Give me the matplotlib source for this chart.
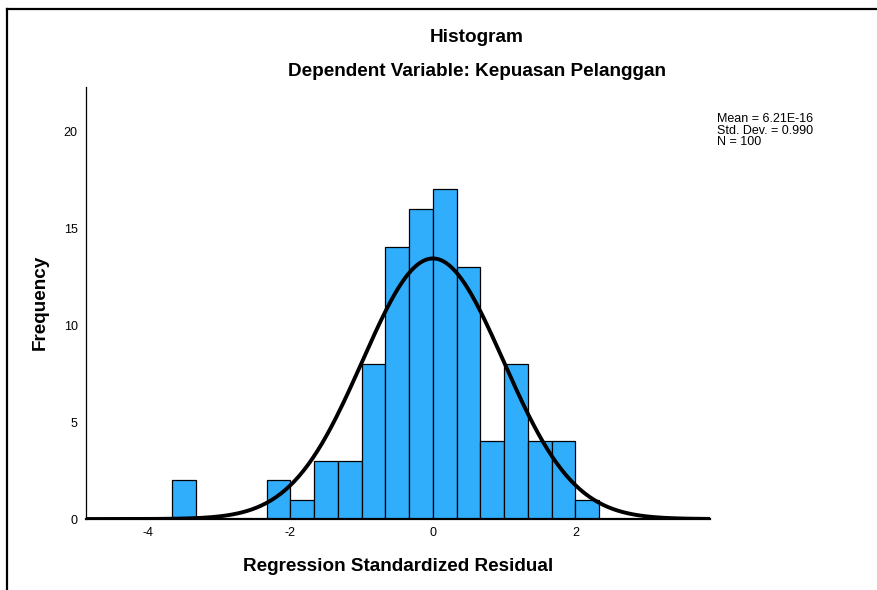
import numpy as np
import matplotlib
matplotlib.use("Agg")
import matplotlib.pyplot as plt
from matplotlib.lines import Line2D

plt.rcParams["font.family"] = ["Liberation Sans", "DejaVu Sans"]
plt.rcParams["axes.unicode_minus"] = False

# Histogram bins (width 1/3) and counts
bin_width = 1 / 3
bin_lefts = [-11, -7, -6, -5, -4, -3, -2, -1, 0, 1, 2, 3, 4, 5, 6]  # in units of bin_width
counts = [2, 2, 1, 3, 3, 8, 14, 16, 17, 13, 4, 8, 4, 4, 1]

mean = 6.21e-16
std = 0.990
n = 100

x_ticks = [-4, -2, 0, 2]
y_ticks = [0, 5, 10, 15, 20]

fig = plt.figure(figsize=(8.78, 5.90), dpi=100)
ax = fig.add_axes([0.098, 0.1203, 0.7107, 0.7322])

lefts = np.array(bin_lefts) * bin_width
ax.bar(lefts, counts, width=bin_width, align="edge", color="#30AEFC",
       edgecolor="black", linewidth=0.9, zorder=2)

xs = np.linspace(-4.87, 3.89, 400)
pdf = n * bin_width * np.exp(-0.5 * ((xs - mean) / std) ** 2) / (std * np.sqrt(2 * np.pi))
ax.plot(xs, pdf, color="black", linewidth=2.8, zorder=3, solid_capstyle="round")

ax.set_xlim(-4.87, 3.89)
ax.set_ylim(0, 22.27)
ax.set_xticks(x_ticks)
ax.set_yticks(y_ticks)
ax.tick_params(length=0, labelsize=9, pad=6)
ax.spines["top"].set_visible(False)
ax.spines["right"].set_visible(False)
ax.spines["left"].set_linewidth(0.9)
ax.spines["bottom"].set_linewidth(1.6)

fig.text(0.543, 0.937, "Histogram", ha="center", va="center", fontsize=13.7, fontweight="bold")
fig.text(0.543, 0.878, "Dependent Variable: Kepuasan Pelanggan", ha="center", va="center",
         fontsize=13.6, fontweight="bold")
fig.text(0.0456, 0.488, "Frequency", ha="center", va="center", rotation=90,
         fontsize=13.6, fontweight="bold")
fig.text(0.453, 0.039, "Regression Standardized Residual", ha="center", va="center",
         fontsize=13.6, fontweight="bold")
fig.text(0.8166, 0.809, "Mean = 6.21E-16\nStd. Dev. = 0.990\nN = 100", ha="left", va="top",
         fontsize=9, linespacing=0.98)

# frame around the chart
fig.add_artist(Line2D([0.008, 0.008], [0, 0.985], color="black", linewidth=1.6,
                      transform=fig.transFigure))
fig.add_artist(Line2D([0.008, 1.0], [0.985, 0.985], color="black", linewidth=1.6,
                      transform=fig.transFigure))

fig.savefig("out.png", dpi=100)
